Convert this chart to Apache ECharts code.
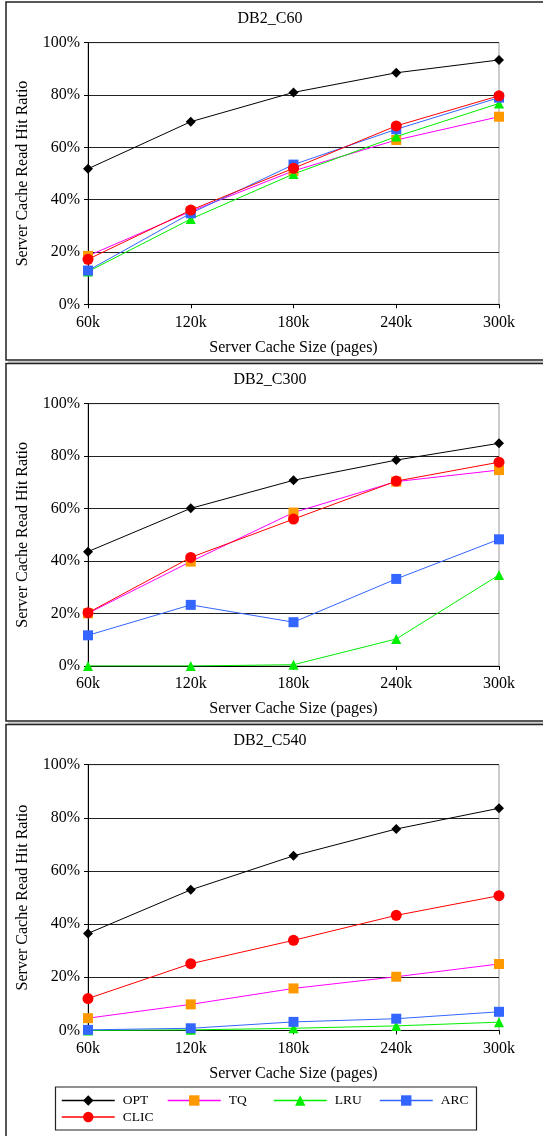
<!DOCTYPE html>
<html>
<head>
<meta charset="utf-8">
<script src="https://cdn.jsdelivr.net/npm/echarts@6/dist/echarts.min.js"></script>
<style>
html,body{margin:0;padding:0;background:#fff;}
#c{width:543px;height:1136px;}
</style>
</head>
<body>
<div id="c"></div>
<script>
const categories = ['60k','120k','180k','240k','300k'];
const seriesNames = ['OPT','TQ','LRU','ARC','CLIC'];
const titles = ['DB2_C60','DB2_C300','DB2_C540'];

// DB2_C60
const c60_OPT  = [51.8, 69.8, 81.0, 88.5, 93.4];
const c60_TQ   = [18.5, 35.5, 51.0, 62.8, 71.7];
const c60_LRU  = [12.5, 32.6, 49.8, 64.1, 76.8];
const c60_ARC  = [12.9, 34.8, 53.4, 66.9, 79.0];
const c60_CLIC = [17.2, 36.0, 52.0, 68.2, 79.7];
// DB2_C300
const c300_OPT  = [43.6, 60.1, 70.8, 78.5, 84.9];
const c300_TQ   = [20.1, 39.8, 58.5, 70.3, 74.7];
const c300_LRU  = [0.0, 0.0, 0.5, 10.3, 34.7];
const c300_ARC  = [11.7, 23.3, 16.7, 33.2, 48.3];
const c300_CLIC = [20.3, 41.4, 56.0, 70.5, 77.7];
// DB2_C540
const c540_OPT  = [36.5, 52.9, 65.7, 75.8, 83.6];
const c540_TQ   = [4.6, 9.8, 15.8, 20.2, 25.0];
const c540_LRU  = [0.0, 0.2, 0.8, 1.7, 3.1];
const c540_ARC  = [0.2, 0.8, 3.2, 4.4, 7.0];
const c540_CLIC = [12.0, 25.1, 33.9, 43.3, 50.7];

const yTicks = [0, 20, 40, 60, 80, 100];

const panels = [
  [c60_OPT, c60_TQ, c60_LRU, c60_ARC, c60_CLIC],
  [c300_OPT, c300_TQ, c300_LRU, c300_ARC, c300_CLIC],
  [c540_OPT, c540_TQ, c540_LRU, c540_ARC, c540_CLIC]
];

const FONT = '"Liberation Serif", "DejaVu Serif", serif';
const styles = {
  OPT:  {symbol:'diamond', size:10, item:'#000000', line:'#000000'},
  TQ:   {symbol:'rect',    size:10, item:'#ff9900', line:'#ff00ff'},
  LRU:  {symbol:'triangle',size:10, item:'#00ee00', line:'#00ee00'},
  ARC:  {symbol:'rect',    size:10, item:'#3366ff', line:'#3366ff'},
  CLIC: {symbol:'circle',  size:11, item:'#ff0000', line:'#ff0000'}
};

const gridTops = [42.7, 403.7, 764.7];
const gridHeights = [261.6, 262.3, 265.7];
const titleTops = [6, 367, 728];

const grids = [], xAxes = [], yAxes = [], series = [], titleArr = [];
for (let p = 0; p < 3; p++) {
  grids.push({left: 88, right: 44, top: gridTops[p], height: gridHeights[p],
    show: true, borderColor: '#999', borderWidth: 1, containLabel: false});
  titleArr.push({text: titles[p], left: 265, top: titleTops[p], textAlign: 'center',
    textStyle: {fontFamily: FONT, fontSize: 16, fontWeight: 'normal', color: '#000'}});
  xAxes.push({type: 'category', gridIndex: p, data: categories, boundaryGap: false,
    name: 'Server Cache Size (pages)', nameLocation: 'middle', nameGap: 35,
    nameTextStyle: {fontFamily: FONT, fontSize: 16, color: '#000'},
    axisLine: {lineStyle: {color: '#000', width: 1}},
    axisTick: {show: true, length: 4, alignWithLabel: true, lineStyle: {color: '#000'}},
    axisLabel: {fontFamily: FONT, fontSize: 16, color: '#000', margin: 10},
    splitLine: {show: false}});
  yAxes.push({type: 'value', gridIndex: p, min: 0, max: 100, interval: 20,
    name: 'Server Cache Read Hit Ratio', nameLocation: 'middle', nameGap: 57,
    nameTextStyle: {fontFamily: FONT, fontSize: 16, color: '#000'},
    axisLine: {show: true, lineStyle: {color: '#000', width: 1}},
    axisTick: {show: true, length: 4, lineStyle: {color: '#000'}},
    axisLabel: {fontFamily: FONT, fontSize: 16, color: '#000', margin: 8,
      formatter: v => yTicks.includes(v) ? v + '%' : ''},
    splitLine: {show: true, lineStyle: {color: '#222', width: 1}}});
  seriesNames.forEach((n, i) => {
    const s = styles[n];
    series.push({name: n, type: 'line', xAxisIndex: p, yAxisIndex: p,
      data: panels[p][i], symbol: s.symbol, symbolSize: s.size, showAllSymbol: true,
      itemStyle: {color: s.item}, lineStyle: {color: s.line, width: 1},
      emphasis: {disabled: true}, animation: false, z: 2 + i});
  });
}

const legendPos = [[61, 1093.5], [167, 1093.5], [273, 1093.5], [379, 1093.5], [61, 1110]];
const legends = seriesNames.map((n, i) => ({
  data: [n], left: legendPos[i][0], top: legendPos[i][1],
  itemWidth: 53, itemHeight: 13, itemGap: 0, padding: 0,
  selectedMode: false,
  lineStyle: {width: 1.5},
  textStyle: {fontFamily: FONT, fontSize: 13.5, color: '#000', padding: [0, 0, 0, 3]}
}));

const panelRects = [[6, 2, 360], [6, 363.5, 721], [6, 724.5, 1140]];
const graphics = [];
panelRects.forEach(r => {
  graphics.push({type: 'rect', shape: {x: r[0], y: r[1], width: 600, height: r[2] - r[1]},
    style: {fill: 'none', stroke: '#222', lineWidth: 1.5}, silent: true, z: -1});
  graphics.push({type: 'line', shape: {x1: r[0] + 2, y1: r[2] + 2, x2: 600, y2: r[2] + 2},
    style: {stroke: '#999', lineWidth: 1}, silent: true, z: -1});
});
graphics.push({type: 'rect', shape: {x: 55.5, y: 1087, width: 421, height: 43},
  style: {fill: 'none', stroke: '#222', lineWidth: 1.2}, silent: true, z: -1});

const chart = echarts.init(document.getElementById('c'), null, {renderer: 'canvas'});
chart.setOption({
  animation: false,
  backgroundColor: '#fff',
  title: titleArr,
  grid: grids,
  xAxis: xAxes,
  yAxis: yAxes,
  legend: legends,
  series: series,
  graphic: graphics
});
</script>
</body>
</html>
